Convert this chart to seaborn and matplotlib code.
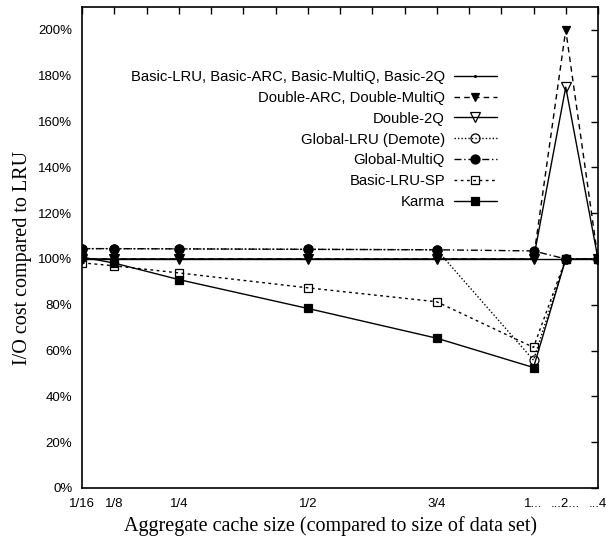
import numpy as np
import pandas as pd
import matplotlib
matplotlib.use("Agg")
import matplotlib.pyplot as plt
import seaborn as sns

# ---- data ----
x_labels = ["1/16", "1/8", "1/4", "1/2", "3/4", "1...", "...2...", "...4"]
x_pos = [1, 2, 4, 8, 12, 15, 16, 17]   # position in units of 1/16 along the axis

basic_lru   = [100, 100, 100, 100, 100, 100, 100, 100]
double_arc  = [100, 100, 100, 100, 100, 100, 200, 100]
double_2q   = [100, 100, 100, 100, 100, 100, 175, 100]
global_lru  = [104.5, 104.5, 104.4, 104.2, 104.0, 55.8, 100, 100]
global_mq   = [104.5, 104.5, 104.4, 104.2, 104.0, 103.5, 100, 100]
basic_lru_sp = [98.3, 97.0, 93.9, 87.4, 81.3, 61.4, 100, 100]
karma       = [100.8, 98.2, 91.0, 78.4, 65.4, 52.6, 100, 100]

series_names = ["Basic-LRU, Basic-ARC, Basic-MultiQ, Basic-2Q",
                "Double-ARC, Double-MultiQ",
                "Double-2Q",
                "Global-LRU (Demote)",
                "Global-MultiQ",
                "Basic-LRU-SP",
                "Karma"]
series_vals = [basic_lru, double_arc, double_2q, global_lru, global_mq, basic_lru_sp, karma]

rows = []
for name, vals in zip(series_names, series_vals):
    for p, v in zip(x_pos, vals):
        rows.append({"series": name, "pos": p, "value": v})
df = pd.DataFrame(rows)

styles = {
    series_names[0]: dict(ls="-", marker=".", ms=2.5, mfc="black"),
    series_names[1]: dict(ls=(0, (4, 3)), marker="v", ms=5.5, mfc="black"),
    series_names[2]: dict(ls="-", marker="v", ms=6.5, mfc="none"),
    series_names[3]: dict(ls=(0, (1, 1.5)), marker="o", ms=6.5, mfc="none"),
    series_names[4]: dict(ls=(0, (5, 2, 1, 2)), marker="o", ms=6.5, mfc="black"),
    series_names[5]: dict(ls=(0, (2, 2.5)), marker="s", ms=5.5, mfc="none"),
    series_names[6]: dict(ls="-", marker="s", ms=6, mfc="black"),
}

sns.set_theme(style="white")
plt.rcParams["font.family"] = ["Liberation Sans", "DejaVu Sans"]
plt.rcParams["text.color"] = "black"
plt.rcParams["axes.labelcolor"] = "black"
plt.rcParams["xtick.color"] = "black"
plt.rcParams["ytick.color"] = "black"

fig = plt.figure(figsize=(6.06, 5.38), dpi=100)
ax = fig.add_axes([82/606, 1-488/538, (598-82)/606, (488-7)/538])

for name in series_names:
    st = styles[name]
    sub = df[df["series"] == name]
    sns.lineplot(data=sub, x="pos", y="value", ax=ax, color="black",
                 linestyle=st["ls"], marker=st["marker"], markersize=st["ms"],
                 markerfacecolor=st["mfc"], markeredgecolor="black",
                 markeredgewidth=0.9, linewidth=1.0, label=name,
                 estimator=None, sort=False)

ax.set_xlim(1, 17)
ax.set_ylim(0, 210)
ax.set_xticks(range(1, 18))
lab_map = dict(zip(x_pos, x_labels))
ax.set_xticklabels([lab_map.get(i, "") for i in range(1, 18)])
ax.set_yticks(np.arange(0, 201, 20))
ax.set_yticklabels([f"{v}%" for v in range(0, 201, 20)])
ax.tick_params(direction="in", length=5, width=1, top=True, right=True,
               labelsize=9.5, colors="black", labelcolor="black")
ax.tick_params(axis="x", pad=7)
ax.tick_params(axis="y", pad=7)
for s in ax.spines.values():
    s.set_color("black")
    s.set_linewidth(1.2)

ax.set_xlabel("Aggregate cache size (compared to size of data set)",
              family=["Liberation Serif"], fontsize=14.5, color="black")
ax.set_ylabel("I/O cost compared to LRU", family=["Liberation Serif"],
              fontsize=14.5, color="black")
ax.xaxis.set_label_coords((330-82)/516, -0.058)
ax.yaxis.set_label_coords(-0.097, (488-258)/481)

leg = ax.legend(loc="upper right", bbox_to_anchor=((497-82)/516, (488-70)/481),
                frameon=False, markerfirst=False, fontsize=10.7,
                handlelength=2.9, handletextpad=0.6, labelspacing=0.46,
                borderpad=0, borderaxespad=0)
for t in leg.get_texts():
    t.set_color("black")

fig.savefig("out.png", dpi=100)
